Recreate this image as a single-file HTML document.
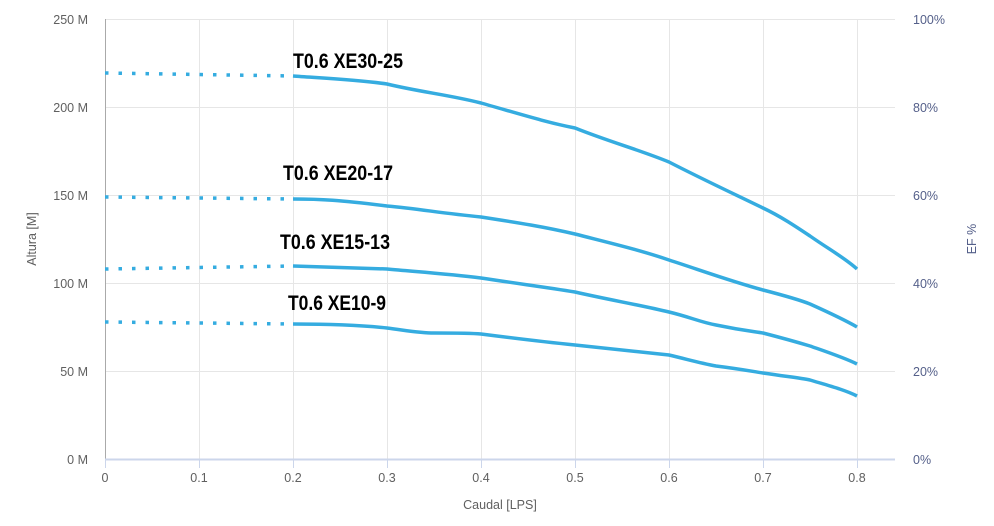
<!DOCTYPE html>
<html><head><meta charset="utf-8"><style>
body{margin:0;background:#fff;}
svg text{font-family:"Liberation Sans","DejaVu Sans",sans-serif;}
.t{font-size:12.5px;fill:#606060;}
.r{font-size:12.5px;fill:#55608a;}
.lb{font-family:"Liberation Sans",sans-serif;font-weight:bold;font-size:21px;fill:#000;}
</style></head><body>
<svg width="994" height="521" xmlns="http://www.w3.org/2000/svg">
<g stroke="#e6e6e6" stroke-width="1">
<line x1="105" y1="19.5" x2="895" y2="19.5"/><line x1="105" y1="107.5" x2="895" y2="107.5"/>
<line x1="105" y1="195.5" x2="895" y2="195.5"/><line x1="105" y1="283.5" x2="895" y2="283.5"/>
<line x1="105" y1="371.5" x2="895" y2="371.5"/>
<line x1="199.5" y1="19" x2="199.5" y2="459"/><line x1="293.5" y1="19" x2="293.5" y2="459"/>
<line x1="387.5" y1="19" x2="387.5" y2="459"/><line x1="481.5" y1="19" x2="481.5" y2="459"/>
<line x1="575.5" y1="19" x2="575.5" y2="459"/><line x1="669.5" y1="19" x2="669.5" y2="459"/>
<line x1="763.5" y1="19" x2="763.5" y2="459"/><line x1="857.5" y1="19" x2="857.5" y2="459"/>
</g>
<line x1="105.5" y1="19" x2="105.5" y2="459" stroke="#aaa"/>
<line x1="105" y1="459.5" x2="895" y2="459.5" stroke="#ccd6eb" stroke-width="2"/>
<g stroke="#ccd6eb"><line x1="105.5" y1="460" x2="105.5" y2="468"/><line x1="199.5" y1="460" x2="199.5" y2="468"/><line x1="293.5" y1="460" x2="293.5" y2="468"/><line x1="387.5" y1="460" x2="387.5" y2="468"/><line x1="481.5" y1="460" x2="481.5" y2="468"/><line x1="575.5" y1="460" x2="575.5" y2="468"/><line x1="669.5" y1="460" x2="669.5" y2="468"/><line x1="763.5" y1="460" x2="763.5" y2="468"/><line x1="857.5" y1="460" x2="857.5" y2="468"/></g>
<g class="t" text-anchor="end">
<text x="88" y="24">250 M</text><text x="88" y="112">200 M</text><text x="88" y="200">150 M</text>
<text x="88" y="288">100 M</text><text x="88" y="376">50 M</text><text x="88" y="464">0 M</text></g>
<g class="t" text-anchor="middle">
<text x="105" y="482">0</text><text x="199" y="482">0.1</text><text x="293" y="482">0.2</text><text x="387" y="482">0.3</text><text x="481" y="482">0.4</text><text x="575" y="482">0.5</text><text x="669" y="482">0.6</text><text x="763" y="482">0.7</text><text x="857" y="482">0.8</text>
<text x="500" y="509">Caudal [LPS]</text>
<text transform="translate(36,239) rotate(-90)">Altura [M]</text></g>
<g class="r">
<text x="913" y="24">100%</text><text x="913" y="112">80%</text><text x="913" y="200">60%</text><text x="913" y="288">40%</text><text x="913" y="376">20%</text><text x="913" y="464">0%</text>
<text transform="translate(976,239) rotate(-90)" text-anchor="middle">EF %</text></g>
<g fill="none" stroke="#35ace0" stroke-width="3.5" stroke-dasharray="3.5 10" stroke-linecap="butt">
<path d="M105 73 L293 76"/><path d="M105 197 L293 199"/><path d="M105 269 L293 266"/><path d="M105 322 L293 324"/></g>
<g fill="none" stroke="#35ace0" stroke-width="3.5" stroke-linejoin="round">
<path d="M293 76 C320 78 360 80 387 84 C420 92 450 95 481 103 C520 114 545 122 575 128 C610 142 640 150 669 162 C700 178 730 192 763 208 C780 216 795 226 810 236 C830 250 845 258 857 269"/>
<path d="M293 199 C320 199 340 200 387 206 C420 209 440 213 481 217 C520 223 545 227 575 234 C610 243 640 250 669 260 C700 270 730 281 763 290 C790 297 800 300 810 304 C830 313 845 320 857 327"/>
<path d="M293 266 C320 267 360 268 387 269 C420 272 450 274 481 278 C520 284 545 287 575 292 C610 300 640 305 669 312 C690 317 700 322 716 325 C740 330 750 331 763 333 C790 340 800 343 810 346 C830 353 845 358 857 364"/>
<path d="M293 324 C320 324 360 325 387 328 C410 331 420 333 434 333 C460 333 470 333 481 334 C520 339 545 342 575 345 C610 349 640 352 669 355 C690 360 700 363 716 366 C740 369 750 371 763 373 C790 377 800 378 810 380 C830 386 845 390 857 396"/>
</g>
<g class="lb">
<text x="293" y="68" textLength="110" lengthAdjust="spacingAndGlyphs">T0.6 XE30-25</text>
<text x="283" y="180" textLength="110" lengthAdjust="spacingAndGlyphs">T0.6 XE20-17</text>
<text x="280" y="249" textLength="110" lengthAdjust="spacingAndGlyphs">T0.6 XE15-13</text>
<text x="288" y="310" textLength="98" lengthAdjust="spacingAndGlyphs">T0.6 XE10-9</text></g>
</svg>
</body></html>
